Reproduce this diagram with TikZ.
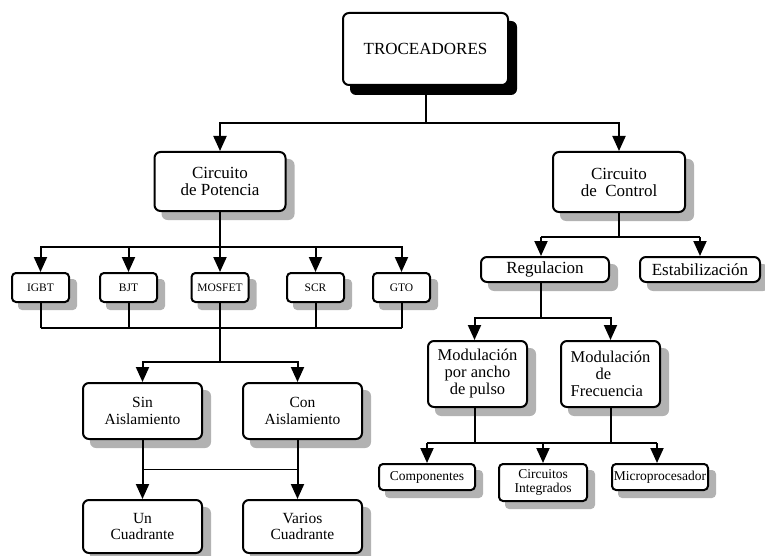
\documentclass[tikz,border=0pt]{standalone}
\usepackage{fontspec}
\setmainfont{Liberation Serif}
\usetikzlibrary{arrows.meta,backgrounds}

\begin{document}
\begin{tikzpicture}[x=1pt,y=-1pt,
  ln/.style={line width=2pt},
  arr/.style={ln,-{Triangle[length=15pt,width=13pt]}},
  base/.style={draw,line width=2pt,rounded corners=6pt,fill=white,align=center,inner sep=0pt},
  bigbox/.style={base,font=\fontsize{17}{17}\selectfont},
  midbox/.style={base,font=\fontsize{15.5}{16.5}\selectfont},
  devbox/.style={base,rounded corners=4pt,minimum width=57pt,minimum height=29pt,font=\fontsize{11.5}{12}\selectfont},
  leafbox/.style={base,rounded corners=4pt,font=\fontsize{13.5}{14}\selectfont},
  shd/.style={fill=black!30,rounded corners=6pt}
]
\path[use as bounding box] (0,0) rectangle (765,556);

% root
\node[base,minimum width=165pt,minimum height=72pt,font=\fontsize{17}{17}\selectfont]
  (troc) at (425.5,49) {TROCEADORES};

% second level
\node[bigbox,minimum width=131pt,minimum height=59pt] (pot) at (220,181.5) {Circuito\\de Potencia};
\node[bigbox,minimum width=132pt,minimum height=60pt] (ctrl) at (619,182) {Circuito\\de~ Control};

% switching devices
\node[devbox] (igbt) at (40.5,287.5) {IGBT};
\node[devbox] (bjt)  at (128.5,287.5) {BJT};
\node[devbox] (mos)  at (220,287.5) {MOSFET};
\node[devbox] (scr)  at (315.5,287.5) {SCR};
\node[devbox] (gto)  at (401.5,287.5) {GTO};

% isolation
\node[midbox,minimum width=119pt,minimum height=56pt] (sin) at (142.5,411) {Sin\\Aislamiento};
\node[midbox,minimum width=119pt,minimum height=56pt] (con) at (302.5,411) {Con\\Aislamiento};
\node[midbox,minimum width=119pt,minimum height=53pt] (un)  at (142.5,526.5) {Un\\Cuadrante};
\node[midbox,minimum width=119pt,minimum height=53pt] (var) at (302.5,526.5) {Varios\\Cuadrante};

% control branch
\node[bigbox,minimum width=128pt,minimum height=25pt] (reg) at (545,269.5) {Regulacion};
\node[bigbox,minimum width=120pt,minimum height=25pt] (est) at (700,269.5) {Estabilización};
\node[base,font=\fontsize{16.5}{17}\selectfont,minimum width=99pt,minimum height=66pt]
  (mpwm) at (477.5,374) {Modulación\\por ancho\\de pulso};
\node[base,align=left,font=\fontsize{16.5}{17}\selectfont,minimum width=99pt,minimum height=66pt]
  (mfreq) at (610.5,374) {Modulación\\\hspace*{25pt}de\\Frecuencia};
\node[leafbox,minimum width=96pt,minimum height=26pt] (comp)  at (427,477) {Componentes};
\node[leafbox,minimum width=88pt,minimum height=37pt] (ci)    at (543,482.5) {Circuitos\\Integrados};
\node[leafbox,minimum width=96pt,minimum height=26pt] (micro) at (660,477) {Microprocesador};

% drop shadows behind the boxes
\begin{scope}[on background layer]
  \fill[black,rounded corners=6pt] ([shift={(8,9)}]troc.north west) rectangle ([shift={(8,9)}]troc.south east);
  \foreach \n in {pot,ctrl,sin,con,un,var,reg,est,mpwm,mfreq}
    \fill[shd] ([shift={(8,8)}]\n.north west) rectangle ([shift={(8,8)}]\n.south east);
  \foreach \n in {igbt,bjt,mos,scr,gto,comp,ci,micro}
    \fill[shd,rounded corners=4pt] ([shift={(7,7)}]\n.north west) rectangle ([shift={(7,7)}]\n.south east);
\end{scope}

% bus levels
\coordinate (r1) at (0,123);
\coordinate (r2) at (0,247);
\coordinate (r3) at (0,328);
\coordinate (r4) at (0,362);
\coordinate (r5) at (0,469);
\coordinate (r6) at (0,237);
\coordinate (r7) at (0,318);
\coordinate (r8) at (0,443);

% root to circuits
\draw[ln] (troc.south) -- (troc.south |- r1);
\draw[arr] (troc.south |- r1) -| (pot.north);
\draw[arr] (troc.south |- r1) -| (ctrl.north);

% power circuit to devices
\draw[arr] (pot.south) -- (mos.north);
\foreach \n in {igbt,bjt,scr,gto}
  \draw[arr] (pot.south |- r2) -| (\n.north);

% devices to isolation
\foreach \n in {igbt,bjt,scr,gto}
  \draw[ln] (\n.south) -- (\n.south |- r3);
\draw[ln] (igbt.south |- r3) -- (gto.south |- r3);
\draw[ln] (mos.south) -- (mos.south |- r4);
\draw[arr] (mos.south |- r4) -| (sin.north);
\draw[arr] (mos.south |- r4) -| ([xshift=-5pt]con.north);
\draw[arr] (sin.south) -- (un.north);
\draw[arr] ([xshift=-5pt]con.south) -- ([xshift=-5pt]var.north);
\draw[line width=1pt] (sin.south |- r5) -- ([xshift=-5pt]con.south |- r5);

% control circuit
\draw[ln] (ctrl.south) -- (ctrl.south |- r6);
\draw[arr] ([xshift=-4pt]reg.north |- r6) -- ([xshift=-4pt]reg.north);
\draw[ln] ([xshift=-4pt]reg.north |- r6) -- (est.north |- r6);
\draw[arr] (est.north |- r6) -- (est.north);

\draw[ln] ([xshift=-4pt]reg.south) -- ([xshift=-4pt]reg.south |- r7);
\draw[arr] ([xshift=-4pt]reg.south |- r7) -| ([xshift=-3pt]mpwm.north);
\draw[arr] ([xshift=-4pt]reg.south |- r7) -| (mfreq.north);

\draw[ln] ([xshift=-3pt]mpwm.south) -- ([xshift=-3pt]mpwm.south |- r8);
\draw[ln] (mfreq.south) -- (mfreq.south |- r8);
\draw[ln] (comp.north |- r8) -- ([xshift=-3pt]micro.north |- r8);
\draw[arr] (comp.north |- r8) -- (comp.north);
\draw[arr] (ci.north |- r8) -- (ci.north);
\draw[arr] ([xshift=-3pt]micro.north |- r8) -- ([xshift=-3pt]micro.north);
\end{tikzpicture}
\end{document}
